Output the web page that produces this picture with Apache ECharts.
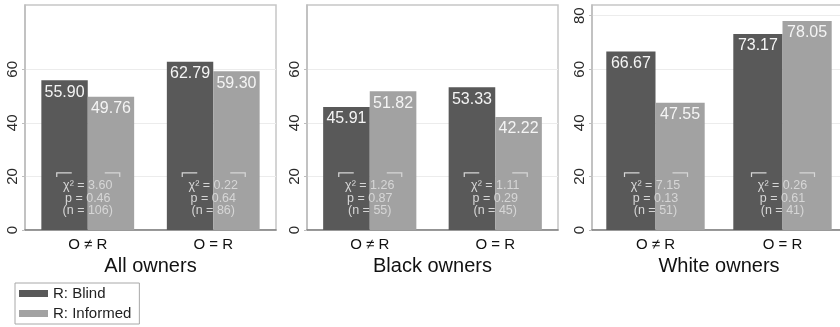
<!DOCTYPE html>
<html>
<head>
<meta charset="utf-8">
<script src="https://cdn.jsdelivr.net/npm/echarts@6/dist/echarts.min.js"></script>
<style>
  html, body { margin: 0; padding: 0; background: #fff; }
  #chart { width: 840px; height: 327px; }
</style>
</head>
<body>
<div id="chart"></div>
<script>
// Share of matches by owner/respondent pairing, split by respondent type
const categories = ['O \u2260 R', 'O = R'];
const panelTitles = ['All owners', 'Black owners', 'White owners'];
const seriesNames = ['R: Blind', 'R: Informed'];

const blindAll = [55.90, 62.79];
const informedAll = [49.76, 59.30];
const blindBlack = [45.91, 53.33];
const informedBlack = [51.82, 42.22];
const blindWhite = [66.67, 73.17];
const informedWhite = [47.55, 78.05];

// Test statistics printed under each pair of bars
const chiAll = ['3.60', '0.22'];
const pAll = ['0.46', '0.64'];
const nAll = [106, 86];
const chiBlack = ['1.26', '1.11'];
const pBlack = ['0.87', '0.29'];
const nBlack = [55, 45];
const chiWhite = ['7.15', '0.26'];
const pWhite = ['0.13', '0.61'];
const nWhite = [51, 41];

// Y tick labels per panel
const yTicksShort = [0, 20, 40, 60];
const yTicksLong = [0, 20, 40, 60, 80];
const yMax = 84;
const statsLevel = 21.3; // height at which the bracket sits

const FONT = '"Liberation Sans", Arial, sans-serif';
const DARK = '#595959';
const LIGHT = '#a2a2a2';
const STAT_COLOR = '#d6d6d6';

const panels = [
  { blind: blindAll, informed: informedAll, chi: chiAll, p: pAll, n: nAll, ticks: yTicksShort,
    left: 25, width: 251, barWidth: 46.4 },
  { blind: blindBlack, informed: informedBlack, chi: chiBlack, p: pBlack, n: nBlack, ticks: yTicksShort,
    left: 307, width: 251, barWidth: 46.6 },
  { blind: blindWhite, informed: informedWhite, chi: chiWhite, p: pWhite, n: nWhite, ticks: yTicksLong,
    left: 592, width: 254, barWidth: 49.2 }
];

const grid = [], xAxis = [], yAxis = [], series = [];

panels.forEach((pn, i) => {
  grid.push({
    left: pn.left, top: 5, width: pn.width, height: 225,
    outerBoundsMode: 'none', containLabel: false,
    show: true, borderColor: '#c6c6c6', borderWidth: 1.5, backgroundColor: '#fff'
  });
  xAxis.push({
    type: 'category', gridIndex: i, data: categories,
    axisLine: { lineStyle: { color: '#7d7d7d', width: 1.5 } },
    axisTick: { show: false },
    axisLabel: { color: '#111', fontSize: 15, fontFamily: FONT, margin: 7 },
    name: panelTitles[i], nameLocation: 'middle', nameGap: 21,
    nameTextStyle: { color: '#111', fontSize: 20, fontFamily: FONT }
  });
  yAxis.push({
    type: 'value', gridIndex: i, min: 0, max: yMax, interval: 20,
    axisLine: { show: true, lineStyle: { color: '#bdbdbd', width: 1.5 } },
    axisTick: { show: true, length: 3, lineStyle: { color: '#bdbdbd' }, customValues: pn.ticks },
    axisLabel: {
      customValues: pn.ticks, rotate: 90, margin: 5,
      color: '#2a2a2a', fontSize: 15, fontFamily: FONT
    },
    splitLine: { show: true, lineStyle: { color: '#ececec', width: 1 } }
  });
  const labelStyle = {
    show: true, position: 'insideTop', distance: 4,
    color: '#f4f4f4', fontSize: 16, fontFamily: FONT,
    formatter: (d) => d.value.toFixed(2)
  };
  series.push({
    name: seriesNames[0], type: 'bar', xAxisIndex: i, yAxisIndex: i,
    data: pn.blind, barWidth: pn.barWidth, barGap: '0%',
    itemStyle: { color: DARK }, label: labelStyle
  });
  series.push({
    name: seriesNames[1], type: 'bar', xAxisIndex: i, yAxisIndex: i,
    data: pn.informed, barWidth: pn.barWidth, barGap: '0%',
    itemStyle: { color: LIGHT }, label: labelStyle
  });
  // Bracket and test statistics over each pair of bars
  series.push({
    type: 'custom', xAxisIndex: i, yAxisIndex: i, z: 5, silent: true,
    data: categories.map((c, k) => [k, statsLevel]),
    renderItem: (params, api) => {
      const k = params.dataIndex;
      const pt = api.coord([api.value(0), api.value(1)]);
      const cx = pt[0], y = pt[1];
      const line = { stroke: STAT_COLOR, lineWidth: 1.2, fill: null };
      return {
        type: 'group',
        children: [
          { type: 'polyline', shape: { points: [[cx - 31, y + 4], [cx - 31, y], [cx - 16, y]] }, style: line },
          { type: 'polyline', shape: { points: [[cx + 17, y], [cx + 32, y], [cx + 32, y + 4]] }, style: line },
          {
            type: 'text',
            style: {
              text: '\u03c7\u00b2 = ' + pn.chi[k] + '\np = ' + pn.p[k] + '\n(n = ' + pn.n[k] + ')',
              x: cx, y: y + 6.5, align: 'center', verticalAlign: 'top',
              fill: STAT_COLOR, fontSize: 12.5, fontFamily: FONT, lineHeight: 12.5
            }
          }
        ]
      };
    }
  });
});

const chart = echarts.init(document.getElementById('chart'), null, { renderer: 'canvas' });
chart.setOption({
  animation: false,
  backgroundColor: '#fff',
  grid, xAxis, yAxis, series,
  legend: {
    data: seriesNames, orient: 'vertical', left: 15, top: 283,
    padding: [3, 8, 3, 4], itemGap: 5, itemWidth: 29, itemHeight: 7,
    icon: 'rect', borderColor: '#a8a8a8', borderWidth: 1,
    textStyle: { color: '#222', fontSize: 15, fontFamily: FONT, padding: [0, 0, 0, 0] }
  }
});
</script>
</body>
</html>
